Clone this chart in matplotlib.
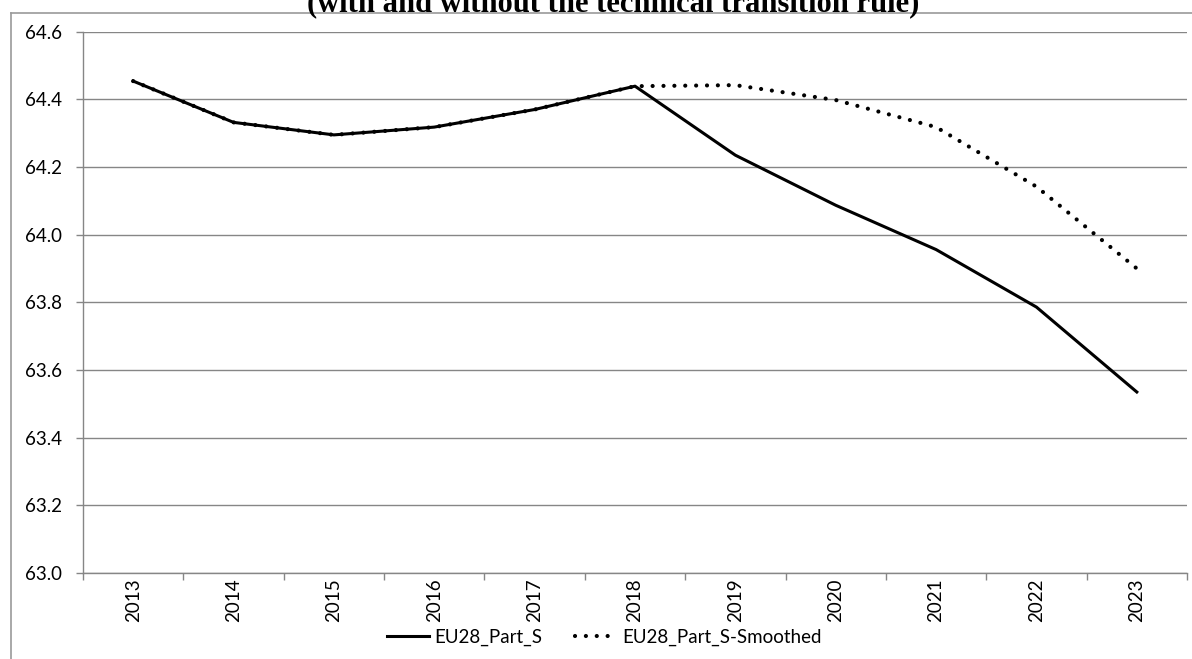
import matplotlib
matplotlib.use("Agg")
import matplotlib.pyplot as plt
from matplotlib.lines import Line2D

years = ["2013", "2014", "2015", "2016", "2017", "2018",
         "2019", "2020", "2021", "2022", "2023"]
part_s = [64.454, 64.332, 64.295, 64.318, 64.370, 64.439,
          64.235, 64.087, 63.956, 63.786, 63.535]
part_s_smoothed = [64.454, 64.332, 64.295, 64.318, 64.370, 64.439,
                   64.442, 64.398, 64.318, 64.142, 63.900]
y_ticks = [63.0, 63.2, 63.4, 63.6, 63.8, 64.0, 64.2, 64.4, 64.6]

title = "(with and without the technical transition rule)"
grid_grey = "#868686"

W, H = 1192, 659
fig = plt.figure(figsize=(W / 100, H / 100), dpi=100)
ax = fig.add_axes([83 / W, 1 - 573 / H, (1187 - 83) / W, (573 - 31.7) / H])

x = list(range(len(years)))
ax.plot(x, part_s_smoothed, color="black", lw=3.0, linestyle=(0, (0.01, 2.6)),
        dash_capstyle="round", solid_capstyle="round",
        label="EU28_Part_S-Smoothed", zorder=3)
ax.plot(x, part_s, color="black", lw=2.2, solid_joinstyle="round",
        label="EU28_Part_S", zorder=4)

ax.set_xlim(-0.5, len(years) - 0.5)
ax.set_ylim(63.0, 64.6)
ax.set_yticks(y_ticks)
ax.set_yticklabels([f"{v:.1f}" for v in y_ticks])
ax.yaxis.grid(True, color=grid_grey, lw=1.0)
ax.set_axisbelow(True)

ax.set_xticks(x)
ax.set_xticklabels(years, rotation=90)
ax.set_xticks([i - 0.5 for i in range(len(years) + 1)], minor=True)
ax.tick_params(axis="x", which="major", length=0, pad=4)
ax.tick_params(axis="x", which="minor", length=5, color=grid_grey, width=1)
ax.tick_params(axis="y", length=5, color=grid_grey, width=1, pad=10)

for t in ax.get_xticklabels() + ax.get_yticklabels():
    t.set_fontfamily("Lato")
    t.set_fontsize(13.5)
    t.set_color("black")

for side in ("top", "right"):
    ax.spines[side].set_visible(False)
for side in ("left", "bottom"):
    ax.spines[side].set_color(grid_grey)
    ax.spines[side].set_linewidth(1.0)

handles, labels = ax.get_legend_handles_labels()
leg = fig.legend(handles[::-1], labels[::-1], loc="center", ncol=2,
                 bbox_to_anchor=(604 / W, 1 - 637 / H), frameon=False,
                 handlelength=2.24, columnspacing=1.76, handletextpad=0.27,
                 prop={"family": "Lato", "size": 13.5})

# outer chart frame (left and top edges)
fig.add_artist(Line2D([11 / W, 11 / W], [0, 1 - 13 / H], color="#9a9a9a", lw=1.2))
fig.add_artist(Line2D([11 / W, 1], [1 - 13 / H, 1 - 13 / H], color="#9a9a9a", lw=1.2))

fig.text(613 / W, 1 - 11 / H, title, ha="center", va="baseline",
         fontfamily="Liberation Serif", fontweight="bold", fontsize=22)

fig.savefig("out.png", dpi=100)
